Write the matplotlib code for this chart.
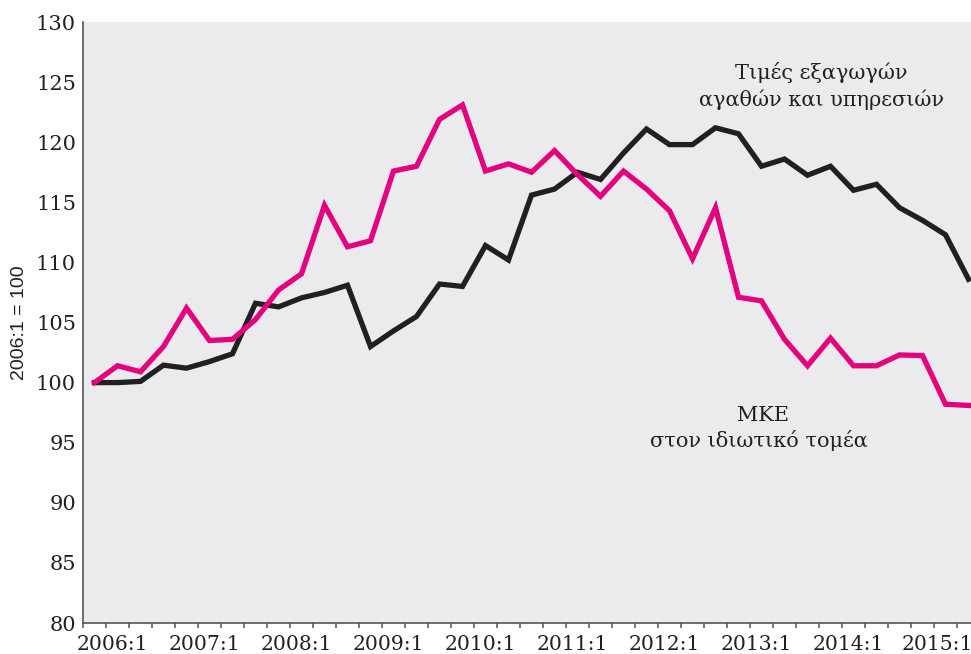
import matplotlib
matplotlib.use("Agg")
import matplotlib.pyplot as plt
import numpy as np

# Quarterly index values, 2006:1 = 100
quarters = [f"{y}:{q}" for y in range(2006, 2016) for q in range(1, 5)][:39]

export_prices = [100.0, 100.0, 100.1, 101.45, 101.2, 101.75, 102.4, 106.6, 106.3, 107.05,
                 107.5, 108.1, 103.0, 104.3, 105.5, 108.2, 108.0, 111.4, 110.2, 115.6,
                 116.1, 117.5, 116.9, 119.1, 121.1, 119.8, 119.8, 121.2, 120.7, 118.0,
                 118.6, 117.25, 118.0, 116.0, 116.5, 114.55, 113.5, 112.3, 108.6]

ulc_private = [100.0, 101.4, 100.9, 103.0, 106.2, 103.5, 103.6, 105.25, 107.7, 109.05,
               114.75, 111.3, 111.8, 117.6, 118.0, 121.9, 123.1, 117.6, 118.2, 117.5,
               119.3, 117.3, 115.5, 117.6, 116.1, 114.3, 110.3, 114.55, 107.1, 106.8,
               103.6, 101.4, 103.7, 101.4, 101.4, 102.3, 102.25, 98.2, 98.1]

year_labels = ["2006:1", "2007:1", "2008:1", "2009:1", "2010:1",
               "2011:1", "2012:1", "2013:1", "2014:1", "2015:1"]
y_ticks = [80, 85, 90, 95, 100, 105, 110, 115, 120, 125, 130]

serif = ["DejaVu Serif"]
narrow = ["Liberation Sans Narrow", "Liberation Sans", "DejaVu Sans"]

fig = plt.figure(figsize=(9.71, 6.54), dpi=100)
ax = fig.add_axes([83 / 971, 31 / 654, 897 / 971, 601 / 654])
ax.set_facecolor("#ebebed")

x = np.arange(len(quarters))
ax.plot(x, export_prices, color="#231f20", lw=3.8, solid_joinstyle="miter", zorder=3)
ax.plot(x, ulc_private, color="#e5007d", lw=3.8, solid_joinstyle="miter", zorder=4)

ax.set_xlim(-0.5, len(quarters) - 0.5)
ax.set_ylim(80, 130)

# category boundaries as small outward ticks; year labels every four quarters
ax.set_xticks(np.arange(-0.5, len(quarters) + 0.5, 1.0), minor=True)
label_pos = np.arange(len(year_labels)) * 4 + 0.76
label_pos[-1] -= 0.12  # keep the last label inside the figure
ax.set_xticks(label_pos)
ax.set_xticklabels(year_labels, fontfamily=serif, fontsize=14.6, color="#231f20")
ax.tick_params(axis="x", which="major", length=0, pad=9)
ax.tick_params(axis="x", which="minor", length=3.5, width=1.1, color="#555555", direction="out")

ax.set_yticks(y_ticks)
ax.set_yticklabels([str(v) for v in y_ticks], fontfamily=serif, fontsize=15, color="#231f20")
ax.tick_params(axis="y", length=0, pad=5)

ax.set_ylabel("2006:1 = 100", fontfamily=narrow, fontsize=14, color="#231f20", labelpad=6)

for side in ("top", "right"):
    ax.spines[side].set_visible(False)
for side in ("left", "bottom"):
    ax.spines[side].set_color("#555555")
    ax.spines[side].set_linewidth(1.2)

ax.text(31.6, 125.8, "Τιμές εξαγωγών", fontfamily=serif, fontsize=15,
        ha="center", va="center", color="#231f20")
ax.text(31.6, 123.5, "αγαθών και υπηρεσιών", fontfamily=serif, fontsize=15,
        ha="center", va="center", color="#231f20")
ax.text(29.05, 97.3, "ΜΚΕ", fontfamily=serif, fontsize=15,
        ha="center", va="center", color="#231f20")
ax.text(28.9, 95.2, "στον ιδιωτικό τομέα", fontfamily=serif, fontsize=15,
        ha="center", va="center", color="#231f20")

fig.savefig("out.png", dpi=100, facecolor="white")
